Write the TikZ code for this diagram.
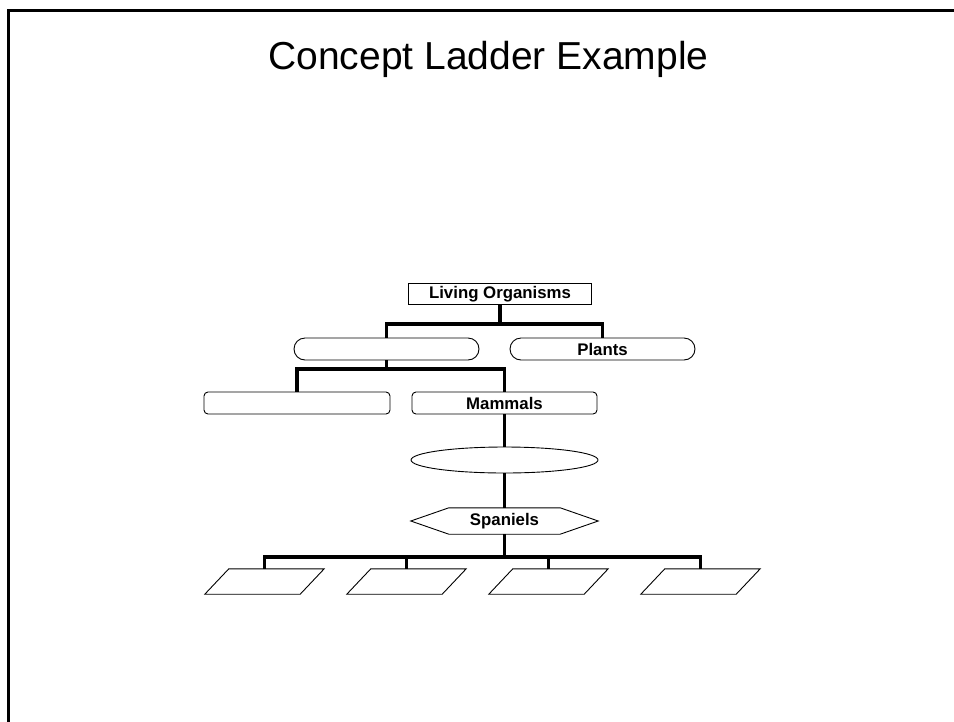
\documentclass[tikz,border=0pt]{standalone}
\usepackage{fontspec}
\setmainfont{Liberation Sans}
\usetikzlibrary{shapes.geometric}

\tikzset{
  box/.style={draw, line width=0.9pt, inner sep=0pt, minimum height=22pt,
    font=\fontsize{16.8}{18}\selectfont\bfseries},
  pill/.style={box, rounded corners=11pt, minimum width=185pt},
  softbox/.style={box, rounded corners=4pt, minimum width=185pt},
  oval/.style={box, ellipse, minimum width=187pt, minimum height=26pt},
  plain/.style={inner sep=0pt, font=\fontsize{16.8}{18}\selectfont\bfseries},
  outline/.style={draw, line width=0.9pt, line join=miter},
  link/.style={line width=3.2pt, line join=miter},
  frameline/.style={line width=2.5pt}
}

\begin{document}
\begin{tikzpicture}[x=1pt, y=-1pt]
  \useasboundingbox (0,0) rectangle (954,721);
  % white page, painted a little past the edges
  \fill[white] (-6,-6) rectangle (962,729);

  % slide frame (top and left edges only)
  \draw[frameline] (962,10.5) -- (8.7,10.5) -- (8.7,729);

  % title
  \node[anchor=base, inner sep=0pt, font=\fontsize{39}{44}\selectfont]
    (title) at (488.5,69.3) {Concept Ladder Example};

  % level 1
  \node[box, minimum width=183pt, minimum height=21pt] (org) at (500,294) {Living Organisms};

  % level 2
  \node[pill] (animals) at (386.5,349) {};
  \node[pill] (plants)  at (602.5,349) {Plants};

  % level 3
  \node[softbox, minimum width=186pt] (other)   at (297,403)   {};
  \node[softbox] (mammals) at (504.5,403) {Mammals};

  % level 4 and 5
  \node[oval] (dogs) at (504.5,460) {};
  \node[plain, minimum width=111pt, minimum height=26pt] (spaniels) at (504.5,521) {Spaniels};
  \draw[outline] (spaniels.north west) -- (spaniels.north east)
    -- ([xshift=38pt]spaniels.east) -- (spaniels.south east)
    -- (spaniels.south west) -- ([xshift=-38pt]spaniels.west) -- cycle;

  % level 6: four slanted boxes
  \foreach \i/\x in {1/264.5, 2/406.5, 3/548.5, 4/700.5}{
    \node[plain, minimum width=95pt, minimum height=25pt] (kind\i) at (\x,581.5) {};
    \draw[outline] ([xshift=12pt]kind\i.north west) -- ([xshift=12pt]kind\i.north east)
      -- ([xshift=-12pt]kind\i.south east) -- ([xshift=-12pt]kind\i.south west) -- cycle;
  }

  % junction points of the ladder
  \coordinate (j1) at (500,324);
  \coordinate (j2) at (386.5,369);
  \coordinate (j3) at (504.5,557);

  % connectors
  \draw[link] (org.south) -- (j1);
  \draw[link] (animals.north) |- (j1) -| (plants.north);
  \draw[link] (animals.south) -- (j2);
  \draw[link] (other.north) |- (j2) -| (mammals.north);
  \draw[link] (mammals.south) -- (dogs.north);
  \draw[link] (dogs.south) -- (spaniels.north);
  \draw[link] (spaniels.south) -- (j3);
  \draw[link] (kind1.north) |- (j3) -| (kind4.north);
  \draw[link] (kind2.north) -- (kind2.north |- j3);
  \draw[link] (kind3.north) -- (kind3.north |- j3);
\end{tikzpicture}
\end{document}
